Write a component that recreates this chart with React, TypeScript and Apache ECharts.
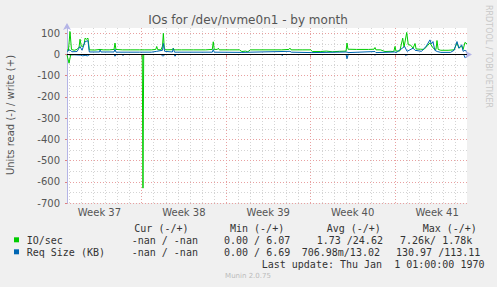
import React, { useEffect, useRef } from 'react';
import * as echarts from 'echarts';

const X_MIN = 0;
const X_MAX = 33.17;
const Y_MIN = -700;
const Y_MAX = 125;

const WEEK_LABELS = ['Week 37', 'Week 38', 'Week 39', 'Week 40', 'Week 41'];
const WEEK_LABEL_POS = [2.69, 9.69, 16.69, 23.69, 30.69];
const WEEK_LINES = [6.19, 13.19, 20.19, 27.19];
const DAY_LINES = [0.19, 1.19, 2.19, 3.19, 4.19, 5.19, 7.19, 8.19, 9.19, 10.19, 11.19, 12.19, 14.19, 15.19, 16.19, 17.19, 18.19, 19.19, 21.19, 22.19, 23.19, 24.19, 25.19, 26.19, 28.19, 29.19, 30.19, 31.19, 32.19];
const Y_MAJOR = [-700, -600, -500, -400, -300, -200, -100, 0, 100];
const Y_MINOR = [-650, -550, -450, -350, -250, -150, -50, 50];

// [day, value]
const IO_WRITE = [
  [0, 22], [0.12, 20], [0.25, 108], [0.37, 24], [0.6, 20], [0.83, 24], [1.0, 35], [1.08, 72], [1.18, 40], [1.3, 38], [1.42, 50], [1.5, 77], [1.62, 72], [1.74, 77], [1.85, 22],
  [2.3, 21], [2.74, 24], [3.0, 22], [3.5, 22], [3.9, 24], [3.98, 54], [4.06, 24], [4.6, 22], [5.3, 22], [6.0, 22], [6.4, 22], [7.0, 22], [7.36, 24], [7.44, 38], [7.52, 23],
  [7.8, 22], [7.92, 40], [7.99, 100], [8.07, 30], [8.2, 22], [8.74, 23], [8.81, 30], [8.89, 22], [9.5, 22], [10.5, 22], [11.5, 22], [12.05, 24], [12.13, 60], [12.21, 24],
  [12.47, 24], [12.55, 30], [12.63, 22], [13.5, 22], [14.3, 22], [14.5, 14], [14.8, 16], [15.0, 13], [15.2, 22], [16.0, 22], [17.0, 22], [17.8, 22], [18.4, 24], [18.49, 30],
  [18.58, 22], [19.5, 22], [20.2, 22], [20.35, 14], [21.0, 14], [21.5, 16], [22.0, 13], [22.6, 15], [23.14, 16], [23.22, 54], [23.3, 25], [24.0, 24], [25.0, 24], [25.46, 25],
  [25.54, 33], [25.62, 22], [26.0, 22], [26.37, 14], [26.8, 15], [27.1, 14], [27.2, 38], [27.28, 16], [27.6, 17], [27.84, 77], [27.95, 35], [28.17, 104], [28.3, 46],
  [28.5, 44], [28.7, 30], [28.86, 52], [28.95, 26], [29.3, 25], [29.6, 24], [29.9, 42], [30.1, 55], [30.25, 40], [30.4, 28], [30.6, 24], [30.68, 66], [30.78, 24],
  [31.0, 20], [31.6, 20], [32.1, 22], [32.34, 55], [32.5, 30], [32.73, 40], [32.85, 24], [33.0, 57], [33.17, 50],
];
const IO_READ = [
  [0, -2], [0.17, -41], [0.3, -2], [0.6, 0], [6.24, 0], [6.3, -630], [6.36, 0], [33.17, 0],
];
const REQ_WRITE = [
  [0, 14], [0.25, 22], [0.4, 13], [0.83, 14], [1.08, 38], [1.25, 20], [1.5, 61], [1.74, 65], [1.85, 12], [2.7, 12], [2.74, 22], [2.82, 12], [3.9, 12], [3.98, 25],
  [4.06, 11], [6.0, 11], [7.0, 11], [7.44, 15], [7.92, 20], [7.99, 52], [8.1, 15], [8.74, 12], [8.81, 28], [8.92, 11], [12.05, 11], [12.13, 24], [12.21, 11], [14.5, 10],
  [15.2, 11], [18.49, 15], [18.6, 11], [20.3, 9], [23.22, 12], [23.3, 9], [25.54, 14], [25.62, 9], [27.2, 12], [27.3, 9], [28.0, 38], [28.2, 15], [28.7, 30], [28.86, 20],
  [29.4, 15], [29.8, 40], [30.1, 69], [30.22, 50], [30.35, 61], [30.5, 20], [30.7, 14], [31.0, 10], [31.8, 10], [32.1, 20], [32.34, 61], [32.5, 30], [32.73, 46],
  [32.85, 15], [33.0, 20], [33.17, 14],
];
const REQ_READ = [
  [0, 0], [1.1, -3], [1.3, -6], [1.5, -4], [1.7, -6], [1.9, 0], [3.9, 0], [3.98, -8], [4.1, 0], [4.55, 0], [4.64, -4], [4.75, 0], [7.8, 0], [7.9, -6], [8.0, -7], [8.1, 0],
  [8.88, 0], [8.96, -8], [9.05, 0], [17.75, 0], [17.83, -5], [17.95, 0], [23.14, 0], [23.22, -20], [23.32, 0], [25.46, 0], [25.54, -3], [25.62, 0], [28.0, 0], [28.1, -5],
  [28.2, 0], [32.9, 0], [33.0, -15], [33.17, -10],
];

const GREEN = '#00cc00';
const BLUE = '#0066b3';
const MONO = '"DejaVu Sans Mono", monospace';
const SANS = '"DejaVu Sans", sans-serif';

function txt(text: string, x: number, y: number, opts: any = {}) {
  return {
    type: 'text',
    x,
    y,
    rotation: opts.rotation || 0,
    silent: true,
    style: {
      text,
      font: opts.font || `10px ${MONO}`,
      fill: opts.fill || '#333',
      align: opts.align || 'left',
      textAlign: opts.align || 'left',
      verticalAlign: 'middle',
      textVerticalAlign: 'middle',
    },
  };
}

export default function App() {
  const ref = useRef<HTMLDivElement>(null);
  useEffect(() => {
    if (!ref.current) return;
    const chart = echarts.init(ref.current, undefined, { renderer: 'svg' });
    const axisColor = '#b4b4e6';
    const lineSeries = (name: string, data: number[][], color: string, extra: any = {}) => ({
      name,
      type: 'line',
      data,
      xAxisIndex: 0,
      yAxisIndex: 0,
      symbol: 'none',
      showSymbol: false,
      lineStyle: { color, width: 1 },
      itemStyle: { color },
      silent: true,
      ...extra,
    });
    const option: any = {
      animation: false,
      backgroundColor: '#f0f0f0',
      grid: { left: 67, right: 30, top: 28, bottom: 84, show: true, backgroundColor: '#ffffff', borderWidth: 0, outerBoundsMode: 'none', containLabel: false },
      xAxis: [
        {
          type: 'value', min: X_MIN, max: X_MAX, gridIndex: 0,
          axisLine: { show: true, lineStyle: { color: axisColor, width: 1 }, symbol: ['none', 'arrow'], symbolSize: [6, 7], symbolOffset: [0, 5] },
          axisTick: { show: true, customValues: WEEK_LINES, length: 3, lineStyle: { color: '#e08080' } },
          axisLabel: {
            customValues: WEEK_LABEL_POS,
            formatter: (v: number) => {
              let best = 0;
              WEEK_LABEL_POS.forEach((p, i) => { if (Math.abs(p - v) < Math.abs(WEEK_LABEL_POS[best] - v)) best = i; });
              return WEEK_LABELS[best];
            },
            color: '#555', fontSize: 10, fontFamily: SANS, margin: 4,
          },
          splitLine: { show: true, lineStyle: { color: '#e8a0a0', type: [1, 2], width: 1 } },
          z: 3,
        },
        {
          type: 'value', min: X_MIN, max: X_MAX, gridIndex: 0,
          axisLine: { show: false },
          axisTick: { show: false, customValues: DAY_LINES },
          axisLabel: { show: false },
          splitLine: { show: true, lineStyle: { color: '#d4d4d4', type: [1, 2], width: 1 } },
        },
      ],
      yAxis: [
        {
          type: 'value', min: Y_MIN, max: Y_MAX, gridIndex: 0,
          axisLine: { show: true, lineStyle: { color: axisColor, width: 1 }, symbol: ['none', 'arrow'], symbolSize: [6, 7], symbolOffset: [0, 5] },
          axisTick: { show: true, customValues: Y_MAJOR, length: 2, lineStyle: { color: '#e08080' } },
          axisLabel: { customValues: Y_MAJOR, color: '#555', fontSize: 10, fontFamily: SANS, margin: 7 },
          splitLine: { show: true, lineStyle: { color: '#e8a0a0', type: [1, 2], width: 1 } },
          z: 3,
        },
        {
          type: 'value', min: Y_MIN, max: Y_MAX, gridIndex: 0,
          axisLine: { show: false },
          axisTick: { show: false, customValues: Y_MINOR },
          axisLabel: { show: false },
          splitLine: { show: true, lineStyle: { color: '#d4d4d4', type: [1, 2], width: 1 } },
        },
      ],
      series: [
        lineSeries('IO/sec read', IO_READ, GREEN),
        lineSeries('IO/sec write', IO_WRITE, GREEN),
        lineSeries('Req Size read', REQ_READ, BLUE),
        lineSeries('Req Size write', REQ_WRITE, BLUE, {
          markLine: {
            silent: true, symbol: ['none', 'none'], label: { show: false },
            lineStyle: { color: '#000000', type: 'solid', width: 1 },
            data: [{ yAxis: 0 }],
          },
        }),
      ],
      graphic: [
        txt('IOs for /dev/nvme0n1 - by month', 248, 19.5, { font: `12px ${SANS}`, fill: '#555', align: 'center' }),
        txt('Units read (-) / write (+)', 10, 115, { font: `10px ${SANS}`, fill: '#555', align: 'center', rotation: Math.PI / 2 }),
        txt('RRDTOOL / TOBI OETIKER', 488, 5, { font: `8px ${SANS}`, fill: '#c8c8c8', rotation: -Math.PI / 2 }),
        txt('Cur (-/+)', 134.3, 228),
        txt('Min (-/+)', 230, 228),
        txt('Avg (-/+)', 326.7, 228),
        txt('Max (-/+)', 422.7, 228),
        { type: 'rect', shape: { x: 14, y: 237.3, width: 5, height: 5 }, style: { fill: GREEN }, silent: true },
        txt('IO/sec', 26.7, 240),
        txt('-nan / -nan', 131.7, 240),
        txt('0.00 / 6.07', 224, 240),
        txt('1.73 /24.62', 316.7, 240),
        txt('7.26k/ 1.78k', 400, 240),
        { type: 'rect', shape: { x: 14, y: 249.3, width: 5, height: 5 }, style: { fill: BLUE }, silent: true },
        txt('Req Size (KB)', 26.7, 252),
        txt('-nan / -nan', 131.7, 252),
        txt('0.00 / 6.69', 224, 252),
        txt('706.98m/13.02', 301.7, 252),
        txt('130.97 /113.11', 396, 252),
        txt('Last update: Thu Jan  1 01:00:00 1970', 261.7, 264),
        txt('Munin 2.0.75', 248, 276, { font: `7px ${SANS}`, fill: '#bbbbbb', align: 'center' }),
      ],
    };
    chart.setOption(option);
    return () => chart.dispose();
  }, []);
  return <div ref={ref} style={{ width: 497, height: 287, position: 'absolute', left: 0, top: 0 }} />;
}
